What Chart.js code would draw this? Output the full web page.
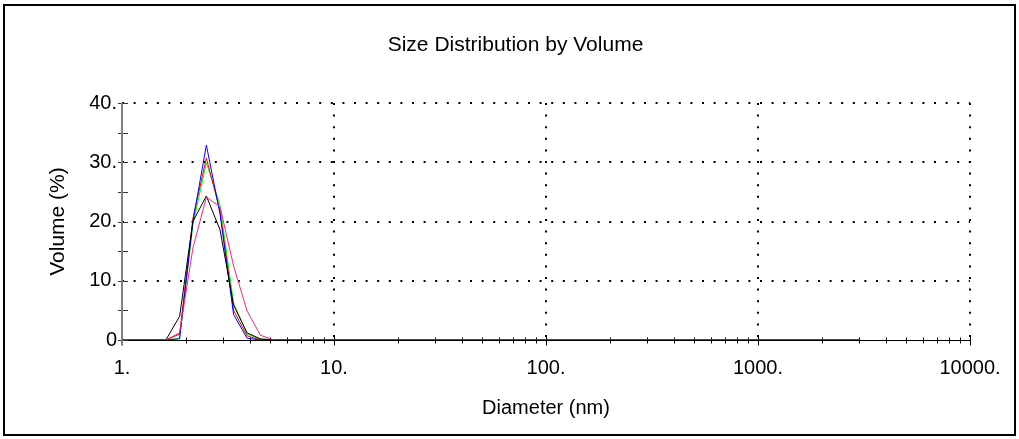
<!DOCTYPE html>
<html>
<head>
<meta charset="utf-8">
<title>Size Distribution by Volume</title>
<script src="https://cdn.jsdelivr.net/npm/chart.js@4.4.1/dist/chart.umd.min.js"></script>
<style>
  html, body { margin: 0; padding: 0; background: #fff; }
</style>
</head>
<body>
<canvas id="chart" width="1019" height="439"></canvas>
<script>
// Diameter bins (nm) and volume % for each record
var sizes     = [1, 1.61, 1.87, 2.16, 2.50, 2.90, 3.36, 3.89, 4.50, 5.21, 3000];
var volPink   = [0, 0, 1.2, 15.5, 24.1, 22.5, 12.5, 4.9, 0.8, 0, 0];
var volBlack  = [0, 0, 4.0, 20.0, 24.3, 18.6, 5.9, 1.2, 0.2, 0, 0];
var volBlue   = [0, 0, 0.2, 20.0, 32.9, 21.3, 4.3, 0.3, 0, 0, 0];
var volRed    = [0, 0, 1.0, 20.5, 30.7, 21.8, 5.0, 0.7, 0, 0, 0];
var volGreen  = [0, 0, 0.3, 19.5, 29.9, 22.8, 6.2, 1.0, 0.1, 0, 0];

var xTicks = [1, 10, 100, 1000, 10000];
var yTicks = [0, 10, 20, 30, 40];
var minorSteps = [2, 3, 4, 5, 6, 7, 8, 9];

var TITLE = 'Size Distribution by Volume';
var FONT = 'Liberation Sans, Arial, sans-serif';

function points(vals) {
  return sizes.map(function(s, i) { return { x: s, y: vals[i] }; });
}

function series(vals, color) {
  return {
    data: points(vals),
    borderColor: color,
    borderWidth: 1,
    pointRadius: 0,
    tension: 0,
    fill: false
  };
}

// white page, black frame and the heading centred on the page
var framePlugin = {
  id: 'frame',
  beforeDraw: function(chart) {
    var ctx = chart.ctx;
    ctx.save();
    ctx.fillStyle = '#fff';
    ctx.fillRect(0, 0, chart.width, chart.height);
    ctx.strokeStyle = '#000';
    ctx.lineWidth = 2;
    ctx.strokeRect(4, 5, chart.width - 8, chart.height - 9);
    ctx.fillStyle = '#000';
    ctx.font = '21px ' + FONT;
    ctx.textAlign = 'center';
    ctx.textBaseline = 'middle';
    ctx.fillText(TITLE, chart.width / 2 + 6, 45);
    ctx.restore();
  }
};

// axis lines with ticks crossing them
var axesPlugin = {
  id: 'axes',
  beforeDatasetsDraw: function(chart) {
    var ctx = chart.ctx, xs = chart.scales.x, ys = chart.scales.y;
    var y0 = Math.round(ys.getPixelForValue(0)) + 0.5;
    var x0 = Math.round(xs.getPixelForValue(1));
    ctx.save();

    ctx.strokeStyle = '#000';
    ctx.lineWidth = 1;
    ctx.beginPath();
    ctx.moveTo(xs.left, y0);
    ctx.lineTo(xs.right, y0);
    xTicks.forEach(function(d) {
      var px = Math.round(xs.getPixelForValue(d)) + 0.5;
      ctx.moveTo(px, y0 - 5);
      ctx.lineTo(px, y0 + 5);
      if (d === 10000) return;
      minorSteps.forEach(function(k) {
        var mx = Math.round(xs.getPixelForValue(d * k)) + 0.5;
        ctx.moveTo(mx, y0 - 3);
        ctx.lineTo(mx, y0 + 3);
      });
    });
    ctx.stroke();

    ctx.strokeStyle = '#333';
    ctx.beginPath();
    for (var v = 0; v <= 40; v += 5) {
      var py = Math.round(ys.getPixelForValue(v)) + 0.5;
      ctx.moveTo(x0 - 4, py);
      ctx.lineTo(x0 + 6, py);
    }
    ctx.stroke();

    ctx.strokeStyle = '#808080';
    ctx.lineWidth = 2;
    ctx.beginPath();
    ctx.moveTo(x0, ys.top);
    ctx.lineTo(x0, y0 + 5);
    ctx.stroke();
    ctx.restore();
  }
};

new Chart(document.getElementById('chart'), {
  type: 'line',
  data: {
    datasets: [
      series(volPink, '#f0287d'),
      series(volBlack, '#000000'),
      series(volBlue, '#0000ff'),
      series(volRed, '#ff0000'),
      series(volGreen, '#00ff00')
    ]
  },
  options: {
    responsive: false,
    animation: false,
    devicePixelRatio: 1,
    layout: { padding: { top: 103, left: 0, right: 49, bottom: 0 } },
    plugins: {
      legend: { display: false },
      tooltip: { enabled: false }
    },
    scales: {
      x: {
        type: 'logarithmic',
        min: 1,
        max: 10000,
        afterFit: function(scale) { scale.height = 439 - 340; },
        afterBuildTicks: function(scale) {
          scale.ticks = xTicks.map(function(v) { return { value: v }; });
        },
        ticks: {
          autoSkip: false,
          maxRotation: 0,
          padding: 16,
          color: '#000',
          font: { family: FONT, size: 20 },
          callback: function(v) { return v + '.'; }
        },
        grid: {
          drawTicks: false,
          lineWidth: 2,
          color: function(c) { return c.tick && c.tick.value === 1 ? 'rgba(0,0,0,0)' : '#000'; }
        },
        border: { display: false, dash: [2, 9.6] },
        title: {
          display: true,
          text: 'Diameter (nm)',
          color: '#000',
          font: { family: FONT, size: 20, lineHeight: 1.2 },
          padding: { top: 0, bottom: 19 }
        }
      },
      y: {
        min: 0,
        max: 40,
        afterFit: function(scale) { scale.width = 122; },
        afterBuildTicks: function(scale) {
          scale.ticks = yTicks.map(function(v) { return { value: v }; });
        },
        ticks: {
          padding: 5,
          color: '#000',
          font: { family: FONT, size: 20 },
          callback: function(v) { return v === 0 ? '0' : v + '.'; }
        },
        grid: {
          drawTicks: false,
          lineWidth: 2,
          color: function(c) { return c.tick && c.tick.value === 0 ? 'rgba(0,0,0,0)' : '#000'; }
        },
        border: { display: false, dash: [2, 9.6] },
        title: {
          display: true,
          text: 'Volume (%)',
          color: '#000',
          font: { family: FONT, size: 21, lineHeight: 1.2 },
          padding: { top: 46, bottom: 0 }
        }
      }
    }
  },
  plugins: [framePlugin, axesPlugin]
});
</script>
</body>
</html>
